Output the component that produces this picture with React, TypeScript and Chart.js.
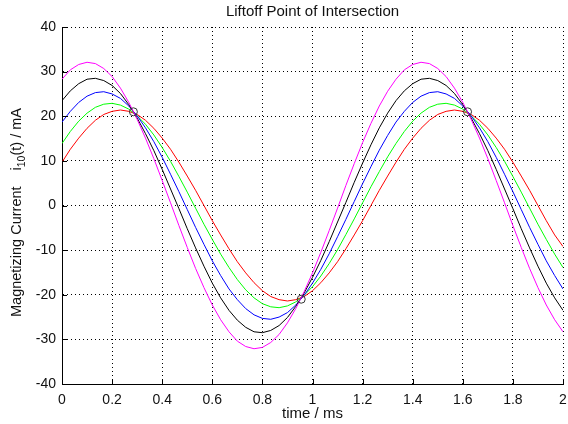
import React, { useEffect, useRef } from 'react';
import { Chart, registerables } from 'chart.js';

Chart.register(...registerables);

const FONT = '"Liberation Sans", Arial, Helvetica, sans-serif';

const titleText = 'Liftoff Point of Intersection';
const xLabelText = 'time / ms';

const timeMs = [
  0, 0.0333, 0.0667, 0.1, 0.1333, 0.1667, 0.2, 0.2333, 0.2667, 0.3,
  0.3333, 0.3667, 0.4, 0.4333, 0.4667, 0.5, 0.5333, 0.5667, 0.6, 0.6333,
  0.6667, 0.7, 0.7333, 0.7667, 0.8, 0.8333, 0.8667, 0.9, 0.9333, 0.9667,
  1, 1.0333, 1.0667, 1.1, 1.1333, 1.1667, 1.2, 1.2333, 1.2667, 1.3,
  1.3333, 1.3667, 1.4, 1.4333, 1.4667, 1.5, 1.5333, 1.5667, 1.6, 1.6333,
  1.6667, 1.7, 1.7333, 1.7667, 1.8, 1.8333, 1.8667, 1.9, 1.9333, 1.9667,
  2,
];

const magentaCurrent = [
  28.3, 30.4, 31.6, 32.1, 31.8, 30.7, 28.9, 26.3, 23.1, 19.3,
  15.1, 10.5, 5.6, 0.6, -4.5, -9.4, -14.1, -18.4, -22.3, -25.6,
  -28.3, -30.4, -31.6, -32.1, -31.8, -30.7, -28.9, -26.3, -23.1, -19.3,
  -15.1, -10.5, -5.6, -0.6, 4.5, 9.4, 14.1, 18.4, 22.3, 25.6,
  28.3, 30.4, 31.6, 32.1, 31.8, 30.7, 28.9, 26.3, 23.1, 19.3,
  15.1, 10.5, 5.6, 0.6, -4.5, -9.4, -14.1, -18.4, -22.3, -25.6,
  -28.3,
];

const blackCurrent = [
  23.5, 25.7, 27.3, 28.3, 28.5, 28.0, 26.9, 25.1, 22.6, 19.6,
  16.1, 12.3, 8.1, 3.7, -0.7, -5.2, -9.5, -13.6, -17.4, -20.7,
  -23.5, -25.7, -27.3, -28.3, -28.5, -28.0, -26.9, -25.1, -22.6, -19.6,
  -16.1, -12.3, -8.1, -3.7, 0.7, 5.2, 9.5, 13.6, 17.4, 20.7,
  23.5, 25.7, 27.3, 28.3, 28.5, 28.0, 26.9, 25.1, 22.6, 19.6,
  16.1, 12.3, 8.1, 3.7, -0.7, -5.2, -9.5, -13.6, -17.4, -20.7,
  -23.5,
];

const blueCurrent = [
  18.7, 21.1, 23.1, 24.5, 25.3, 25.5, 25.0, 24.0, 22.3, 20.1,
  17.4, 14.3, 10.8, 7.0, 3.1, -0.9, -4.9, -8.7, -12.4, -15.7,
  -18.7, -21.1, -23.1, -24.5, -25.3, -25.5, -25.0, -24.0, -22.3, -20.1,
  -17.4, -14.3, -10.8, -7.0, -3.1, 0.9, 4.9, 8.7, 12.4, 15.7,
  18.7, 21.1, 23.1, 24.5, 25.3, 25.5, 25.0, 24.0, 22.3, 20.1,
  17.4, 14.3, 10.8, 7.0, 3.1, -0.9, -4.9, -8.7, -12.4, -15.7,
  -18.7,
];

const greenCurrent = [
  13.9, 16.6, 18.9, 20.7, 22.0, 22.7, 22.9, 22.5, 21.6, 20.1,
  18.2, 15.8, 13.0, 9.9, 6.5, 3.0, -0.6, -4.2, -7.6, -10.9,
  -13.9, -16.6, -18.9, -20.7, -22.0, -22.7, -22.9, -22.5, -21.6, -20.1,
  -18.2, -15.8, -13.0, -9.9, -6.5, -3.0, 0.6, 4.2, 7.6, 10.9,
  13.9, 16.6, 18.9, 20.7, 22.0, 22.7, 22.9, 22.5, 21.6, 20.1,
  18.2, 15.8, 13.0, 9.9, 6.5, 3.0, -0.6, -4.2, -7.6, -10.9,
  -13.9,
];

const redCurrent = [
  9.7, 12.6, 15.1, 17.3, 19.1, 20.4, 21.1, 21.4, 21.1, 20.4,
  19.1, 17.3, 15.1, 12.6, 9.7, 6.6, 3.4, 0, -3.4, -6.6,
  -9.7, -12.6, -15.1, -17.3, -19.1, -20.4, -21.1, -21.4, -21.1, -20.4,
  -19.1, -17.3, -15.1, -12.6, -9.7, -6.6, -3.4, 0, 3.4, 6.6,
  9.7, 12.6, 15.1, 17.3, 19.1, 20.4, 21.1, 21.4, 21.1, 20.4,
  19.1, 17.3, 15.1, 12.6, 9.7, 6.6, 3.4, 0, -3.4, -6.6,
  -9.2,
];

const intersectT = [0.285, 0.955, 1.619];
const intersectI = [21, -21, 21];

const xTicks = [0, 0.2, 0.4, 0.6, 0.8, 1, 1.2, 1.4, 1.6, 1.8, 2];
const xTickLabels = ['0', '0.2', '0.4', '0.6', '0.8', '1', '1.2', '1.4', '1.6', '1.8', '2'];
const yTicks = [-40, -30, -20, -10, 0, 10, 20, 30, 40];
const yTickLabels = ['-40', '-30', '-20', '-10', '0', '10', '20', '30', '40'];

const seriesList = [
  { name: 'magenta', values: magentaCurrent, color: '#ff00ff' },
  { name: 'black', values: blackCurrent, color: '#000000' },
  { name: 'blue', values: blueCurrent, color: '#0000ff' },
  { name: 'green', values: greenCurrent, color: '#00ff00' },
  { name: 'red', values: redCurrent, color: '#ff0000' },
];

export default function App() {
  const ref = useRef<HTMLCanvasElement>(null);

  useEffect(() => {
    document.body.style.margin = '0';
    const canvas = ref.current;
    if (!canvas) return;

    const decorPlugin = {
      id: 'matlabDecor',
      afterDraw(chart: any) {
        const ctx = chart.ctx as CanvasRenderingContext2D;
        const { left, right, bottom } = chart.chartArea;
        const xs = chart.scales.x;
        const ys = chart.scales.y;
        ctx.save();
        // inward tick marks
        ctx.strokeStyle = '#000';
        ctx.lineWidth = 1;
        ctx.setLineDash([]);
        ctx.beginPath();
        for (const v of xTicks) {
          const px = Math.round(xs.getPixelForValue(v)) + 0.5;
          ctx.moveTo(px, bottom);
          ctx.lineTo(px, bottom - 5);
        }
        for (const v of yTicks) {
          const py = Math.round(ys.getPixelForValue(v)) + 0.5;
          ctx.moveTo(left, py);
          ctx.lineTo(left + 5, py);
        }
        ctx.stroke();

        ctx.fillStyle = '#111';
        ctx.textBaseline = 'alphabetic';
        // title
        ctx.font = `15px ${FONT}`;
        ctx.textAlign = 'center';
        ctx.fillText(titleText, (left + right) / 2, 16);
        // x label
        ctx.fillText(xLabelText, (left + right) / 2, 418);

        // y label (rotated, with subscript)
        const mainFont = `14.5px ${FONT}`;
        const subFont = `10.5px ${FONT}`;
        const p1 = 'Magnetizing Current';
        const p2a = 'i';
        const p2 = '10';
        const p3 = '(t) / mA';
        ctx.font = mainFont;
        const w1 = ctx.measureText(p1).width;
        const wa = ctx.measureText(p2a).width;
        ctx.font = subFont;
        const w2 = ctx.measureText(p2).width;
        ctx.translate(21, 0);
        ctx.rotate(-Math.PI / 2);
        // rotated frame: x = -screenY
        ctx.textAlign = 'left';
        ctx.font = mainFont;
        const start = -317;
        ctx.fillText(p1, start, 0);
        const startB = start + w1 + 16;
        ctx.fillText(p2a, startB, 0);
        ctx.font = subFont;
        ctx.fillText(p2, startB + wa, 4);
        ctx.font = mainFont;
        ctx.fillText(p3, startB + wa + w2, 0);
        ctx.restore();
      },
    };

    const datasets: any[] = [
      {
        label: 'intersection',
        data: intersectT.map((x, i) => ({ x, y: intersectI[i] })),
        showLine: false,
        pointRadius: 4,
        pointBorderWidth: 1,
        pointBorderColor: '#333',
        pointBackgroundColor: 'rgba(0,0,0,0)',
        borderColor: '#333',
      },
      ...seriesList.map((s) => ({
        label: s.name,
        data: s.values.map((y, i) => ({ x: timeMs[i], y })),
        borderColor: s.color,
        borderWidth: 1,
        pointRadius: 0,
        tension: 0,
        fill: false,
      })),
    ];

    const chart = new Chart(canvas, {
      type: 'line',
      data: { datasets },
      options: {
        responsive: false,
        animation: false,
        devicePixelRatio: 1,
        layout: { padding: { left: 0, right: 4, top: 27, bottom: 0 } },
        plugins: {
          legend: { display: false },
          title: { display: false },
          tooltip: { enabled: false },
        },
        scales: {
          x: {
            type: 'linear',
            min: 0,
            max: 2,
            afterBuildTicks: (s: any) => {
              s.ticks = xTicks.map((v) => ({ value: v }));
            },
            afterFit: (s: any) => {
              s.height = 40;
              s.paddingLeft = 0;
              s.paddingRight = 0;
            },
            ticks: {
              autoSkip: false,
              maxRotation: 0,
              minRotation: 0,
              padding: 8,
              color: '#111',
              font: { family: FONT, size: 14 },
              callback: (_v: any, i: number) => xTickLabels[i],
            },
            grid: { color: '#000', lineWidth: 1, drawTicks: false },
            border: { display: true, color: '#000', width: 1, dash: [1, 3] },
          },
          y: {
            type: 'linear',
            min: -40,
            max: 40,
            afterBuildTicks: (s: any) => {
              s.ticks = yTicks.map((v) => ({ value: v }));
            },
            afterFit: (s: any) => {
              s.width = 62;
              s.paddingTop = 0;
              s.paddingBottom = 0;
            },
            ticks: {
              autoSkip: false,
              padding: 6,
              color: '#111',
              font: { family: FONT, size: 14 },
              callback: (_v: any, i: number) => yTickLabels[i],
            },
            grid: { color: '#000', lineWidth: 1, drawTicks: false },
            border: { display: true, color: '#000', width: 1, dash: [1, 3] },
          },
        },
      },
      plugins: [decorPlugin],
    });

    return () => chart.destroy();
  }, []);

  return (
    <div style={{ width: 568, height: 424, background: '#fff' }}>
      <canvas ref={ref} width={568} height={424} style={{ display: 'block' }} />
    </div>
  );
}
